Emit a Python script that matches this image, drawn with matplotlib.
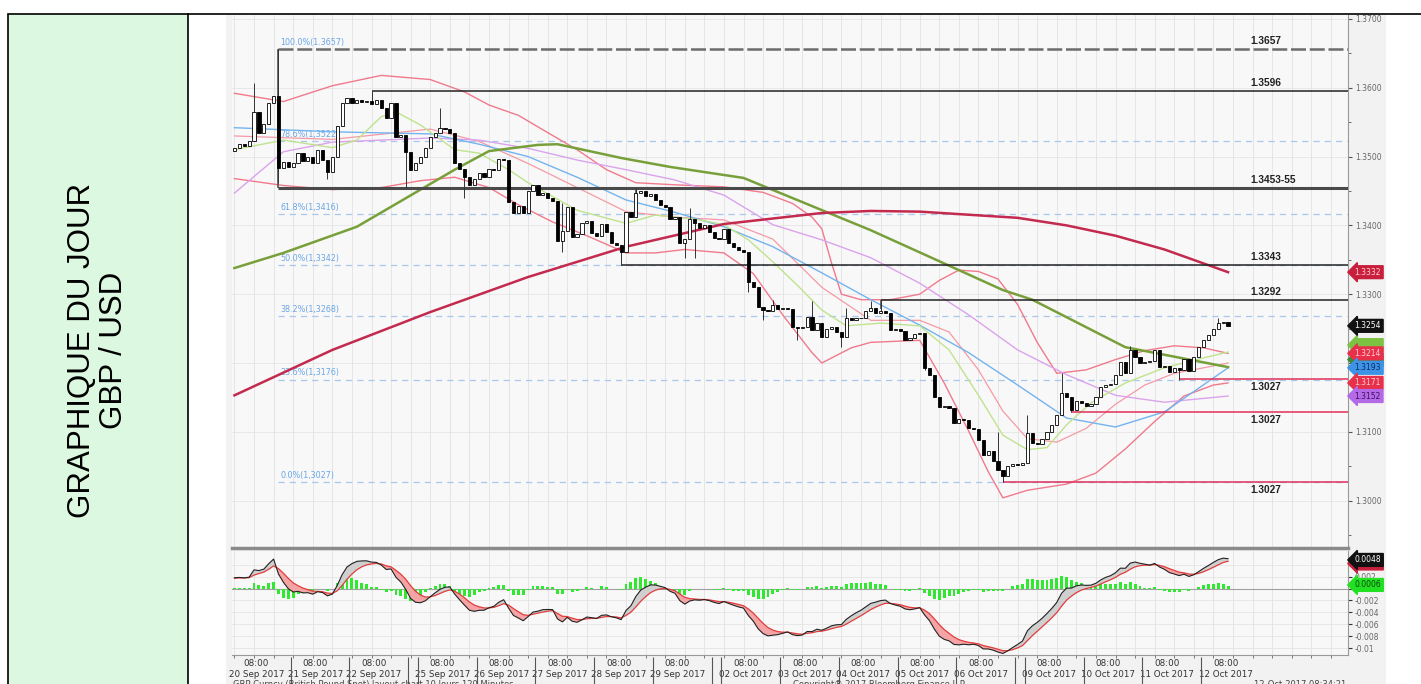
import numpy as np
import matplotlib
matplotlib.use("Agg")
import matplotlib.pyplot as plt
import matplotlib.transforms as mtrans
from matplotlib.patches import Rectangle
from matplotlib.lines import Line2D

# ---------------- data (120 min bars) ----------------
day_labels = ['20 Sep 2017', '21 Sep 2017', '22 Sep 2017', '25 Sep 2017', '26 Sep 2017',
              '27 Sep 2017', '28 Sep 2017', '29 Sep 2017', '02 Oct 2017', '03 Oct 2017',
              '04 Oct 2017', '05 Oct 2017', '06 Oct 2017', '09 Oct 2017', '10 Oct 2017',
              '11 Oct 2017', '12 Oct 2017']
day_start = [0, 12, 24, 38, 50, 62, 74, 86, 100, 112, 124, 136, 148, 162, 174, 186, 198]
weekend_start = [36, 98, 160]

first_open = 1.3508
closes = [
    1.3512, 1.3518, 1.3515, 1.3522, 1.3565, 1.3535, 1.3548, 1.3578, 1.3588, 1.3483, 1.3492, 1.3485,
    1.3490, 1.3505, 1.3494, 1.3500, 1.3490, 1.3510, 1.3495, 1.3478, 1.3500, 1.3545, 1.3578, 1.3585,
    1.3578, 1.3582, 1.3579, 1.3581, 1.3576, 1.3582, 1.3570, 1.3556, 1.3578, 1.3528, 1.3532, 1.3506,
    1.3480, 1.3490,
    1.3500, 1.3512, 1.3528, 1.3535, 1.3541, 1.3540, 1.3534, 1.3490, 1.3482, 1.3470, 1.3458, 1.3468,
    1.3476, 1.3470, 1.3482, 1.3480, 1.3496, 1.3495, 1.3434, 1.3418, 1.3428, 1.3418, 1.3450, 1.3458,
    1.3444, 1.3447, 1.3440, 1.3436, 1.3378, 1.3392, 1.3427, 1.3383, 1.3388, 1.3403, 1.3407, 1.3389,
    1.3384, 1.3402, 1.3390, 1.3374, 1.3372, 1.3361, 1.3420, 1.3412, 1.3447, 1.3450, 1.3443, 1.3446,
    1.3437, 1.3430, 1.3427, 1.3410, 1.3412, 1.3374, 1.3380, 1.3410, 1.3404, 1.3396, 1.3400, 1.3390,
    1.3382, 1.3380,
    1.3395, 1.3374, 1.3369, 1.3364, 1.3361, 1.3318, 1.3310, 1.3281, 1.3277, 1.3276, 1.3284, 1.3279,
    1.3280, 1.3278, 1.3252, 1.3251, 1.3253, 1.3267, 1.3248, 1.3258, 1.3238, 1.3250, 1.3252, 1.3245,
    1.3238, 1.3265, 1.3263, 1.3265, 1.3266, 1.3275, 1.3280, 1.3273, 1.3276, 1.3272, 1.3248, 1.3250,
    1.3247, 1.3233, 1.3236, 1.3242, 1.3244, 1.3193, 1.3183, 1.3150, 1.3136, 1.3137, 1.3135, 1.3113,
    1.3118, 1.3117, 1.3105, 1.3104, 1.3088, 1.3066, 1.3072, 1.3058, 1.3044, 1.3036, 1.3050, 1.3053,
    1.3052, 1.3055,
    1.3098, 1.3084, 1.3082, 1.3090, 1.3100, 1.3110, 1.3124, 1.3156, 1.3150, 1.3132, 1.3145, 1.3142,
    1.3137, 1.3140, 1.3151, 1.3165, 1.3168, 1.3170, 1.3183, 1.3201, 1.3185, 1.3219, 1.3209, 1.3200,
    1.3202, 1.3203, 1.3219, 1.3194, 1.3196, 1.3187, 1.3193, 1.3190, 1.3206, 1.3189, 1.3209, 1.3223,
    1.3233, 1.3240, 1.3250, 1.3258, 1.3260, 1.3254,
]
high_idx = [4, 9, 28, 42, 67, 82, 93, 110, 118, 125, 130, 132, 156, 162, 169, 183, 201]
high_val = [1.3607, 1.3657, 1.3596, 1.3570, 1.3432, 1.3455, 1.3425, 1.3292, 1.3290, 1.3280,
            1.3290, 1.3292, 1.3100, 1.3125, 1.3185, 1.3225, 1.3266]
low_idx = [9, 19, 35, 47, 67, 79, 92, 94, 105, 108, 115, 124, 141, 157, 171, 193]
low_val = [1.3462, 1.3468, 1.3455, 1.3440, 1.3362, 1.3343, 1.3352, 1.3352, 1.3303, 1.3262,
           1.3233, 1.3223, 1.3190, 1.3027, 1.3129, 1.3176]

# moving averages / bands (sampled at bar numbers)
red_idx = [0, 20, 40, 60, 80, 100, 120, 130, 140, 160, 170, 180, 190, 203]
red_ma = [1.3153, 1.3219, 1.3274, 1.3325, 1.3369, 1.3402, 1.3418, 1.3421, 1.3420, 1.3411,
          1.3400, 1.3385, 1.3365, 1.3332]
olive_idx = [0, 10, 25, 45, 52, 62, 66, 79, 89, 104, 130, 157, 163, 182, 203]
olive_ma = [1.3338, 1.3360, 1.3398, 1.3481, 1.3508, 1.3517, 1.3518, 1.3498, 1.3485, 1.3469,
            1.3393, 1.3306, 1.3292, 1.3223, 1.3194]
blue_idx = [0, 20, 40, 50, 60, 70, 80, 90, 100, 110, 120, 130, 140, 150, 160, 170, 180, 190, 203]
blue_ma = [1.3542, 1.3536, 1.3533, 1.3518, 1.3500, 1.3470, 1.3437, 1.3419, 1.3398, 1.3369,
           1.3331, 1.3292, 1.3255, 1.3215, 1.3168, 1.3120, 1.3107, 1.3129, 1.3193]
purple_idx = [0, 10, 20, 40, 50, 60, 70, 80, 90, 100, 110, 120, 130, 140, 150, 160, 170, 180, 190, 203]
purple_ma = [1.3447, 1.3507, 1.3521, 1.3527, 1.3524, 1.3512, 1.3495, 1.3481, 1.3466, 1.3444,
             1.3401, 1.3379, 1.3353, 1.3316, 1.3270, 1.3219, 1.3183, 1.3153, 1.3143, 1.3152]
lgreen_idx = [0, 10, 20, 25, 30, 33, 38, 45, 50, 56, 60, 70, 80, 86, 95, 100, 105, 110, 115,
              120, 125, 132, 140, 146, 152, 157, 162, 166, 170, 175, 182, 190, 196, 203]
lgreen_ma = [1.3510, 1.3524, 1.3513, 1.3524, 1.3558, 1.3565, 1.3546, 1.3510, 1.3505, 1.3481,
             1.3462, 1.3422, 1.3403, 1.3415, 1.3408, 1.3401, 1.3379, 1.3347, 1.3313, 1.3277,
             1.3254, 1.3258, 1.3254, 1.3219, 1.3153, 1.3095, 1.3074, 1.3077, 1.3110, 1.3142,
             1.3171, 1.3193, 1.3204, 1.3216]
upper_idx = [0, 10, 20, 30, 40, 47, 52, 58, 63, 70, 76, 82, 90, 100, 108, 114, 118, 120, 122,
             124, 128, 134, 140, 144, 148, 152, 156, 160, 164, 168, 174, 180, 186, 192, 198, 203]
upper_band = [1.3592, 1.3580, 1.3603, 1.3618, 1.3612, 1.3594, 1.3575, 1.3560, 1.3539, 1.3510,
              1.3481, 1.3462, 1.3459, 1.3456, 1.3448, 1.3432, 1.3412, 1.3395, 1.3345, 1.3300,
              1.3292, 1.3292, 1.3300, 1.3320, 1.3335, 1.3333, 1.3322, 1.3285, 1.3230, 1.3185,
              1.3190, 1.3205, 1.3218, 1.3225, 1.3222, 1.3214]
lower_idx = [0, 10, 20, 30, 38, 45, 52, 58, 65, 72, 80, 86, 92, 100, 106, 112, 118, 120, 126,
             130, 140, 145, 150, 154, 157, 162, 170, 176, 182, 188, 194, 200, 203]
lower_band = [1.3468, 1.3458, 1.3452, 1.3455, 1.3465, 1.3470, 1.3455, 1.3430, 1.3405, 1.3385,
              1.3360, 1.3360, 1.3365, 1.3360, 1.3330, 1.3270, 1.3215, 1.3200, 1.3222, 1.3230,
              1.3233, 1.3171, 1.3101, 1.3042, 1.3004, 1.3015, 1.3024, 1.3040, 1.3075, 1.3115,
              1.3152, 1.3168, 1.3171]
mid_idx = [0, 20, 40, 50, 60, 70, 80, 90, 100, 110, 120, 130, 140, 146, 152, 157, 162, 168,
           174, 180, 186, 192, 198, 203]
mid_band = [1.3530, 1.3525, 1.3540, 1.3522, 1.3490, 1.3455, 1.3420, 1.3412, 1.3408, 1.3380,
            1.3310, 1.3262, 1.3262, 1.3245, 1.3190, 1.3130, 1.3090, 1.3085, 1.3105, 1.3140,
            1.3168, 1.3185, 1.3193, 1.3200]

# fibonacci retracement 1.3657 -> 1.3027
fib_pct = ['100.0%', '78.6%', '61.8%', '50.0%', '38.2%', '23.6%', '0.0%']
fib_val = [1.3657, 1.3522, 1.3416, 1.3342, 1.3268, 1.3176, 1.3027]
fib_from = 9

# support / resistance levels: value, first bar, label
lvl_val = [1.3657, 1.3596, 1.3455, 1.3343, 1.3292]
lvl_from = [9, 28, 9, 79, 132]
lvl_text = ['1.3657', '1.3596', '1.3453-55', '1.3343', '1.3292']
red_lvl_val = [1.3177, 1.3129, 1.3027]
red_lvl_from = [193, 171, 157]
red_lvl_text = ['1.3027', '1.3027', '1.3027']

# right-hand value tags
tag_val = [1.3332, 1.3226, 1.3254, 1.3205, 1.3214, 1.3193, 1.3171, 1.3152]
tag_txt = ['1.3332', '', '1.3254', '', '1.3214', '1.3193', '1.3171', '1.3152']
tag_fc = ['#c8203c', '#7cc243', '#111111', '#3c8a3c', '#e8304a', '#3d93e6', '#e8304a', '#b46ae6']
tag_tc = ['#ffd0d8', 'white', 'white', 'white', '#ffd0d8', '#0a2a66', '#ffd0d8', '#3a1060']

# MACD (5, 35, 5) and its state at the first bar
macd_fast, macd_slow, macd_sig = 5, 35, 5
ema_fast_seed = 1.3512
ema_slow_seed = 1.3493
signal_seed = 0.0017
macd_tag_val = [0.0042, 0.0048, 0.0006]
macd_tag_txt = ['', '0.0048', '0.0006']
macd_tag_fc = ['#c8203c', '#111111', '#22e022']
macd_tag_tc = ['white', 'white', '#0a4a0a']

# ---------------- figure ----------------
W, H = 1421, 684
fig = plt.figure(figsize=(W / 100, H / 100), dpi=100)
plt.rcParams['font.family'] = ['DejaVu Sans']


def fx(px):
    return px / W


def fy(py):
    return 1 - py / H


# left title box
fig.patches.append(Rectangle((fx(8), fy(700)), fx(188) - fx(8), fy(14) - fy(700),
                             transform=fig.transFigure, facecolor='#dcf8e0',
                             edgecolor='black', lw=1.2, zorder=-2))
fig.lines.append(Line2D([fx(188), 1], [fy(14), fy(14)], transform=fig.transFigure,
                        color='black', lw=1.2))
fig.text(fx(98), fy(350), 'GRAPHIQUE DU JOUR\nGBP / USD', rotation=90, ha='center',
         va='center', fontsize=22.5, family='Liberation Sans', linespacing=1.1)

# light grey screenshot background
fig.patches.append(Rectangle((fx(226), 0), fx(1386) - fx(226), fy(15), transform=fig.transFigure,
                             facecolor='#f2f2f2', edgecolor='none', zorder=-2))

n = len(closes)
x = np.arange(n)
closes = np.array(closes)
opens = np.r_[first_open, closes[:-1]]
highs = np.maximum(opens, closes)
lows = np.minimum(opens, closes)
for i, v in zip(high_idx, high_val):
    highs[i] = max(highs[i], v)
for i, v in zip(low_idx, low_val):
    lows[i] = min(lows[i], v)

x0, x1 = -0.5, 227.5

# ---------------- price panel ----------------
ax = fig.add_axes([fx(232), fy(548), fx(1348) - fx(232), fy(15) - fy(548)])
ax.set_facecolor('#f8f8f8')
ax.set_xlim(x0, x1)
ax.set_ylim(1.29311, 1.37058)
ax.set_xticks(np.arange(0, 228, 4), minor=True)
ax.set_xticks([])
ax.grid(which='minor', axis='x', color='#e2e2e2', lw=0.6)
ax.set_yticks(np.arange(1.30, 1.3701, 0.01))
ax.set_yticks(np.arange(1.295, 1.3701, 0.005), minor=True)
ax.set_yticklabels(['%.4f' % v for v in np.arange(1.30, 1.3701, 0.01)])
ax.grid(which='major', axis='y', color='#e6e6e6', lw=0.6)
ax.yaxis.tick_right()
ax.tick_params(axis='y', which='both', labelsize=5.5, labelcolor='#666', color='#555',
               length=3, pad=2, direction='out')
ax.tick_params(axis='y', which='minor', length=2)
ax.tick_params(axis='x', which='both', length=0)
for s in ['left', 'top']:
    ax.spines[s].set_visible(False)
ax.spines['right'].set_color('#999')
ax.spines['bottom'].set_color('#8a8a8a')
ax.spines['bottom'].set_linewidth(2.5)
ax.set_axisbelow(True)

# fibonacci lines
for p, v in zip(fib_pct, fib_val):
    if p == '100.0%':
        ax.hlines(v, fib_from, x1, color='#6c6c6c', lw=1.8, linestyles=(0, (6, 1.5)), zorder=2)
        vt = '1.3657'
    else:
        ax.hlines(v, fib_from, x1, color='#a8c8ec', lw=0.9, linestyles=(0, (5, 4)), zorder=2)
        vt = ('%.4f' % v).replace('.', ',', 1)
    ax.text(fib_from + 0.4, v + 0.0003, '%s(%s)' % (p, vt),
            fontsize=5.8, color='#6aa6e6', ha='left', va='bottom', zorder=2)

# indicator lines
ax.plot(upper_idx, upper_band, color='#f07a8c', lw=1.0, zorder=3)
ax.plot(lower_idx, lower_band, color='#f07a8c', lw=1.0, zorder=3)
ax.plot(mid_idx, mid_band, color='#f59aa6', lw=0.9, zorder=3)
ax.plot(purple_idx, purple_ma, color='#dba3ec', lw=1.0, zorder=3)
ax.plot(blue_idx, blue_ma, color='#74b4ee', lw=1.0, zorder=3)
ax.plot(lgreen_idx, lgreen_ma, color='#bfe38e', lw=1.0, zorder=3)
ax.plot(olive_idx, olive_ma, color='#78a03a', lw=1.8, zorder=3)
ax.plot(red_idx, red_ma, color='#c32a4e', lw=1.8, zorder=3)

# levels
for v, s, t in zip(lvl_val, lvl_from, lvl_text):
    if t == '1.3453-55':
        ax.hlines(v, s, x1, color='#4a4a4a', lw=2.2, zorder=4)
    elif t != '1.3657':
        ax.hlines(v, s, x1, color='#222', lw=1.1, zorder=4)
    ax.text(207.5, v + 0.0004, t, fontsize=7.3, fontweight='bold', family='Liberation Sans',
            ha='left', va='bottom', color='#222', zorder=6)
for v, s, t in zip(red_lvl_val, red_lvl_from, red_lvl_text):
    ax.hlines(v, s, x1, color='#e0305a', lw=1.1, zorder=4)
    ax.text(207.5, v - 0.0004, t, fontsize=7.3, fontweight='bold', family='Liberation Sans',
            ha='left', va='top', color='#222', zorder=6)
# box edges
ax.vlines(9, 1.3455, 1.3657, color='#444', lw=1.1, zorder=4)
ax.vlines(82, 1.3418, 1.3455, color='#444', lw=1.1, zorder=4)
ax.vlines(132, 1.3278, 1.3292, color='#444', lw=1.1, zorder=4)

# candles
up = closes >= opens
ax.vlines(x, lows, highs, color='#333', lw=0.7, zorder=5)
body = np.maximum(np.abs(closes - opens), 0.00006)
ax.bar(x, body, bottom=np.minimum(opens, closes), width=0.65,
       color=np.where(up, 'white', 'black'), edgecolor='black', lw=0.6, zorder=6)

# value tags on the price scale
bt = mtrans.blended_transform_factory(ax.transAxes, ax.transData)
for v, t, fc, tc in zip(tag_val, tag_txt, tag_fc, tag_tc):
    ax.text(1.006, v, t if t else '1.3200', transform=bt, ha='left', va='center',
            fontsize=5.5, color=tc if t else fc, clip_on=False, zorder=10,
            bbox=dict(boxstyle='larrow,pad=0.25', fc=fc, ec=fc))


# ---------------- MACD panel ----------------
def ema(vals, seed, span):
    a = 2.0 / (span + 1)
    out = []
    e = seed
    for v in vals:
        e = e + a * (v - e)
        out.append(e)
    return np.array(out)


macd = ema(closes, ema_fast_seed, macd_fast) - ema(closes, ema_slow_seed, macd_slow)
signal = ema(macd, signal_seed, macd_sig)
hist = macd - signal

ax2 = fig.add_axes([fx(232), fy(655), fx(1348) - fx(232), fy(551) - fy(655)])
ax2.set_facecolor('#f8f8f8')
ax2.set_xlim(x0, x1)
ax2.set_ylim(-0.01117, 0.0063)
mt = [0.004, 0.002, 0, -0.002, -0.004, -0.006, -0.008, -0.01]
ax2.set_yticks(mt)
ax2.set_yticklabels(['0.004', '0.002', '0', '-0.002', '-0.004', '-0.006', '-0.008', '-0.01'])
ax2.yaxis.tick_right()
ax2.tick_params(axis='y', labelsize=5.5, labelcolor='#666', color='#333', length=3, pad=2)
ax2.grid(which='major', axis='y', color='#e4e4e4', lw=0.6)
ax2.set_xticks(np.arange(0, 228, 4), minor=True)
ax2.grid(which='minor', axis='x', color='#e2e2e2', lw=0.6)
ax2.set_xticks(np.array(day_start) + 4.5)
ax2.set_xticklabels(['08:00\n' + d for d in day_labels])
ax2.tick_params(axis='x', which='major', labelsize=6.3, length=0, pad=3, labelcolor='#333')
ax2.tick_params(axis='x', which='minor', length=2, color='#666')
for s in ['left', 'top']:
    ax2.spines[s].set_visible(False)
ax2.spines['right'].set_color('#999')
ax2.spines['bottom'].set_color('#999')
ax2.set_axisbelow(True)

ax2.axhline(0, color='#a0a0a0', lw=0.8, zorder=1)
ax2.bar(x, hist, width=0.6, color='#2fe82f', zorder=2)
ax2.fill_between(x, macd, signal, where=macd >= signal, interpolate=True,
                 color='#cfcfcf', lw=0, zorder=3)
ax2.fill_between(x, macd, signal, where=macd < signal, interpolate=True,
                 color='#f4a4a4', lw=0, zorder=3)
ax2.plot(x, signal, color='#e23c3c', lw=0.9, zorder=4)
ax2.plot(x, macd, color='#222', lw=0.8, zorder=5)

bt2 = mtrans.blended_transform_factory(ax2.transAxes, ax2.transData)
for v, t, fc, tc in zip(macd_tag_val, macd_tag_txt, macd_tag_fc, macd_tag_tc):
    ax2.text(1.006, v, t if t else '0.0042', transform=bt2, ha='left', va='center',
             fontsize=5.5, color=tc if t else fc, clip_on=False, zorder=10,
             bbox=dict(boxstyle='larrow,pad=0.25', fc=fc, ec=fc))

# day separators in the date strip
bt3 = mtrans.blended_transform_factory(ax2.transData, ax2.transAxes)
seps = [d - 0.5 for d in day_start[1:]] + [w - 0.5 for w in weekend_start]
ax2.vlines(seps, -0.02, -0.32, transform=bt3, color='#555', lw=0.8, clip_on=False)

# footer (cut by the page edge, as in the screenshot)
fig.text(fx(233), fy(680), 'GBP Curncy (British Pound Spot) layout chart 10 Jours 120 Minutes',
         fontsize=6, color='#444', va='top', ha='left')
fig.text(fx(880), fy(680), 'Copyright\u00ae 2017 Bloomberg Finance L.P.',
         fontsize=6, color='#444', va='top', ha='center')
fig.text(fx(1300), fy(680), '12-Oct-2017 08:34:21', fontsize=6, color='#444', va='top', ha='center')

fig.savefig('out.png', dpi=100)
